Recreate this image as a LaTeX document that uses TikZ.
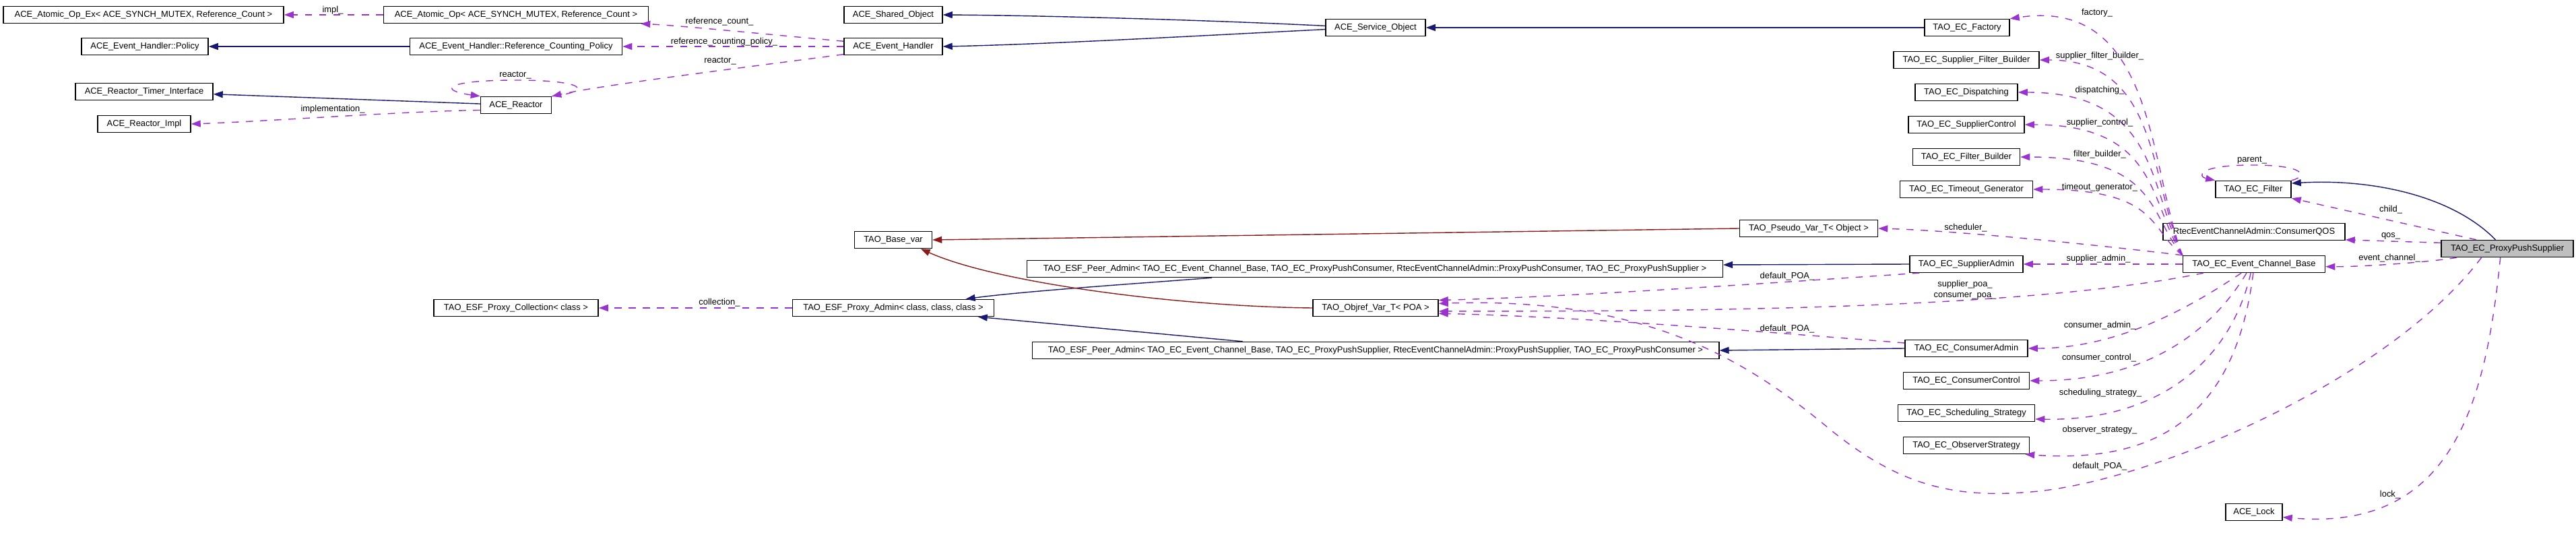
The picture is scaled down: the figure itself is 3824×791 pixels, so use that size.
\documentclass[tikz,border=0pt]{standalone}
\usepackage{fontspec}
\setmainfont{Liberation Sans}
\usetikzlibrary{arrows.meta}

\newcommand{\dgfont}{\fontsize{3.68pt}{4.4pt}\selectfont}
\definecolor{inhblue}{HTML}{191970}
\definecolor{usepurple}{HTML}{9A32CD}
\definecolor{tmplred}{HTML}{8B1A1A}
\definecolor{pushgray}{HTML}{BFBFBF}

\tikzset{
  cls/.style={draw=black, fill=white, line width=0.4pt, inner sep=0pt, minimum height=0.25cm, minimum width=#1, font=\dgfont},
  lbl/.style={font=\dgfont, inner sep=0pt},
  inherit/.style={draw=inhblue, line width=0.4pt, -{Triangle[length=0.14cm,width=0.1cm]}},
  tmpl/.style={draw=tmplred, line width=0.4pt, -{Triangle[length=0.14cm,width=0.1cm]}},
  usage/.style={draw=usepurple, line width=0.4pt, dashed, -{Triangle[length=0.14cm,width=0.1cm]}},
}

\begin{document}
\begin{tikzpicture}[x=0.01cm, y=-0.01cm]
  \useasboundingbox (0,0) rectangle (3824,791);
  % class boxes
  \node[cls=4.16cm] (atomicex) at (213,22) {ACE\_Atomic\_Op\_Ex< ACE\_SYNCH\_MUTEX, Reference\_Count >};
  \node[cls=3.93cm] (atomic) at (766,22) {ACE\_Atomic\_Op< ACE\_SYNCH\_MUTEX, Reference\_Count >};
  \node[cls=1.88cm] (policy) at (215,69) {ACE\_Event\_Handler::Policy};
  \node[cls=3.15cm] (refpolicy) at (766,69) {ACE\_Event\_Handler::Reference\_Counting\_Policy};
  \node[cls=2.04cm] (timerif) at (214,136) {ACE\_Reactor\_Timer\_Interface};
  \node[cls=1.38cm] (reactorimpl) at (214,184) {ACE\_Reactor\_Impl};
  \node[cls=1.05cm] (reactor) at (766,156) {ACE\_Reactor};
  \node[cls=2.44cm] (collection) at (766,457) {TAO\_ESF\_Proxy\_Collection< class >};
  \node[cls=1.46cm] (sharedobj) at (1326,22) {ACE\_Shared\_Object};
  \node[cls=1.46cm] (evhandler) at (1326,69) {ACE\_Event\_Handler};
  \node[cls=1.15cm] (basevar) at (1326,356) {TAO\_Base\_var};
  \node[cls=2.99cm] (proxyadmin) at (1326,457) {TAO\_ESF\_Proxy\_Admin< class, class, class >};
  \node[cls=1.48cm] (svcobj) at (2042,41) {ACE\_Service\_Object};
  \node[cls=10.32cm] (peercons) at (2041,399) {TAO\_ESF\_Peer\_Admin< TAO\_EC\_Event\_Channel\_Base, TAO\_EC\_ProxyPushConsumer, RtecEventChannelAdmin::ProxyPushConsumer, TAO\_EC\_ProxyPushSupplier >};
  \node[cls=1.86cm] (objref) at (2042,457) {TAO\_Objref\_Var\_T< POA >};
  \node[cls=10.19cm] (peersupp) at (2042,520) {TAO\_ESF\_Peer\_Admin< TAO\_EC\_Event\_Channel\_Base, TAO\_EC\_ProxyPushSupplier, RtecEventChannelAdmin::ProxyPushSupplier, TAO\_EC\_ProxyPushConsumer >};
  \node[cls=2.05cm] (pseudovar) at (2685,339) {TAO\_Pseudo\_Var\_T< Object >};
  \node[cls=1.26cm] (factory) at (2920,41) {TAO\_EC\_Factory};
  \node[cls=2.16cm] (sfbuilder) at (2919,89) {TAO\_EC\_Supplier\_Filter\_Builder};
  \node[cls=1.52cm] (dispatching) at (2919,137) {TAO\_EC\_Dispatching};
  \node[cls=1.72cm] (supctrl) at (2919,185) {TAO\_EC\_SupplierControl};
  \node[cls=1.59cm] (fbuilder) at (2919,233) {TAO\_EC\_Filter\_Builder};
  \node[cls=1.97cm] (timeoutgen) at (2919,281) {TAO\_EC\_Timeout\_Generator};
  \node[cls=1.68cm] (supadmin) at (2919,392) {TAO\_EC\_SupplierAdmin};
  \node[cls=1.82cm] (consadmin) at (2919,517) {TAO\_EC\_ConsumerAdmin};
  \node[cls=1.87cm] (consctrl) at (2919,565) {TAO\_EC\_ConsumerControl};
  \node[cls=2.03cm] (schedstrat) at (2919,613) {TAO\_EC\_Scheduling\_Strategy};
  \node[cls=1.87cm] (obsstrat) at (2919,661) {TAO\_EC\_ObserverStrategy};
  \node[cls=1.12cm] (ecfilter) at (3345,281) {TAO\_EC\_Filter};
  \node[cls=2.70cm] (consqos) at (3346,344) {RtecEventChannelAdmin::ConsumerQOS};
  \node[cls=2.11cm] (ecbase) at (3346,392) {TAO\_EC\_Event\_Channel\_Base};
  \node[cls=0.84cm] (acelock) at (3346,760) {ACE\_Lock};
  \node[cls=1.96cm, fill=pushgray] (pps) at (3722,369) {TAO\_EC\_ProxyPushSupplier};

  % inheritance
  \draw[inherit] (refpolicy) -- (policy);
  \draw[inherit] (reactor) -- (timerif);
  \draw[inherit] (svcobj.178) .. controls (1800,30) and (1550,23) .. (sharedobj.east);
  \draw[inherit] (svcobj.182) .. controls (1800,52) and (1550,66) .. (evhandler.east);
  \draw[inherit] (factory) -- (svcobj);
  \draw[inherit] (supadmin.west) -- ([yshift=0.06cm]peercons.east);
  \draw[inherit] (consadmin.west) -- (peersupp.east);
  \draw[inherit] ([xshift=2.75cm]peercons.south west) .. controls (1700,420) and (1520,432) .. (proxyadmin.7);
  \draw[inherit] ([xshift=3.13cm]peersupp.north west) -- (proxyadmin.-6.5);
  \draw[inherit] (pps.143) .. controls (3640,290) and (3520,265) .. (ecfilter.9);
  \draw[tmpl] (pseudovar.west) -- (basevar.east);
  \draw[tmpl] (objref.west) .. controls (1750,455) and (1480,420) .. (basevar.-18);

  % members
  \draw[usage] (atomic) -- (atomicex);
  \draw[usage] (evhandler.174) .. controls (1150,52) and (1010,38) .. ([xshift=-0.12cm]atomic.south east);
  \draw[usage] (evhandler.west) -- (refpolicy.east);
  \draw[usage] (evhandler.189) .. controls (1130,97) and (900,125) .. (reactor.north east);
  \draw[usage] (reactor.north east) .. controls (880,136) and (872,119) .. (766,119) .. controls (660,119) and (650,134) .. (reactor.north west);
  \draw[usage] (reactor.188) .. controls (600,165) and (400,180) .. (reactorimpl.east);
  \draw[usage] (proxyadmin.west) -- (collection.east);
  \draw[usage] (ecbase.north west) .. controls (3190,250) and (3200,-5) .. (factory.north east);
  \foreach \tgt/\ty/\ly/\txt in {sfbuilder/89/83/supplier\_filter\_builder\_, dispatching/137/134/dispatching\_, supctrl/185/182/supplier\_control\_, fbuilder/233/229/filter\_builder\_, timeoutgen/281/278/timeout\_generator\_}
  {
    \draw[usage] (ecbase.north west) .. controls (3190,{379-0.4*(379-\ty)}) and (3205,\ty) .. (\tgt.east);
    \node[lbl] (l_\tgt) at (3117,\ly) {\txt};
  }
  \draw[usage] (ecbase.north west) .. controls (3100,362) and (2900,342) .. (pseudovar.east);
  \draw[usage] (ecbase.west) -- (supadmin.east);
  \draw[usage] (ecbase.190) .. controls (3000,460) and (2500,462) .. (objref.-3);
  \draw[usage] (ecbase.215) .. controls (3260,450) and (3150,517) .. (consadmin.east);
  \draw[usage] (ecbase.230) .. controls (3290,480) and (3200,565) .. (consctrl.east);
  \draw[usage] (ecbase.250) .. controls (3310,540) and (3200,625) .. (schedstrat.-5);
  \draw[usage] (ecbase.265) .. controls (3320,600) and (3220,690) .. ([xshift=-0.07cm]obsstrat.south east);
  \draw[usage] ([xshift=0.15cm]supadmin.south west) .. controls (2700,415) and (2350,440) .. (objref.7);
  \draw[usage] (consadmin.175) .. controls (2650,495) and (2350,470) .. (objref.-5);
  \draw[usage] (pps.164.5) -- (ecfilter.south east);
  \draw[usage] (pps.175) -- (consqos.-5);
  \draw[usage] (pps.190) .. controls (3600,390) and (3500,396) .. (ecbase.-2);
  \draw[usage] (pps.199) .. controls (3550,560) and (3200,715) .. (3015,730) .. controls (2900,740) and (2820,720) .. (2720,640) .. controls (2600,540) and (2450,440) .. (objref.4);
  \draw[usage] (pps.232) .. controls (3690,600) and (3640,790) .. (acelock.-10);
  \draw[usage] (ecfilter.north east) .. controls (3425,262) and (3425,245) .. (3343,245) .. controls (3262,245) and (3262,262) .. (ecfilter.north west);

  % edge labels
  \node[lbl] (l_impl) at (494,15) {impl\_};
  \node[lbl] (l_refcount) at (1068,32) {reference\_count\_};
  \node[lbl] (l_refpolicy) at (1075,62) {reference\_counting\_policy\_};
  \node[lbl] (l_reactor) at (1069,91) {reactor\_};
  \node[lbl] (l_reactorself) at (765,112) {reactor\_};
  \node[lbl] (l_implementation) at (494,162) {implementation\_};
  \node[lbl] (l_collection) at (1068,449) {collection\_};
  \node[lbl] (l_factory) at (3113,19) {factory\_};
  \node[lbl] (l_scheduler) at (2918,338) {scheduler\_};
  \node[lbl] (l_supadmin) at (3115,384) {supplier\_admin\_};
  \node[lbl] (l_defpoa1) at (2653,410) {default\_POA\_};
  \node[lbl, align=center] (l_poa) at (2917,430) {supplier\_poa\_\\consumer\_poa\_};
  \node[lbl] (l_defpoa2) at (2653,488) {default\_POA\_};
  \node[lbl] (l_consadmin) at (3117,483) {consumer\_admin\_};
  \node[lbl] (l_consctrl) at (3116,531) {consumer\_control\_};
  \node[lbl] (l_schedstrat) at (3118,583) {scheduling\_strategy\_};
  \node[lbl] (l_obsstrat) at (3117,638) {observer\_strategy\_};
  \node[lbl] (l_defpoa3) at (3117,692) {default\_POA\_};
  \node[lbl] (l_parent) at (3343,238) {parent\_};
  \node[lbl] (l_child) at (3549,311) {child\_};
  \node[lbl] (l_qos) at (3549,350) {qos\_};
  \node[lbl] (l_evchannel) at (3547,383) {event\_channel\_};
  \node[lbl] (l_lock) at (3548,734) {lock\_};
\end{tikzpicture}
\end{document}
